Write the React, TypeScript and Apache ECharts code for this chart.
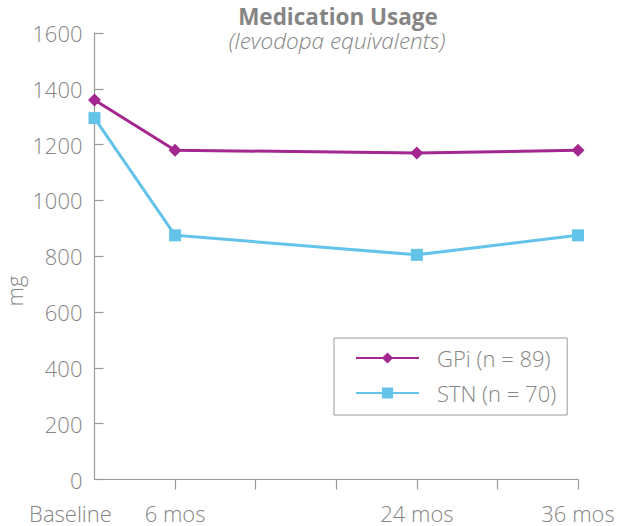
import React, { useEffect, useRef } from "react";
import * as echarts from "echarts";

const months = [0, 6, 24, 36];
const gpiValues = [1360, 1180, 1170, 1180];
const stnValues = [1295, 875, 805, 875];
const xLabelValues = [6, 24, 36];
const baselineLabel = "Baseline";
const xTickValues = [6, 12, 18, 24, 30, 36];
const seriesNames = ["GPi (n = 89)", "STN (n = 70)"];

const GRAY = "#858585";
const AXIS = "#9a9a9a";
const FONT = "Open Sans";

export default function App() {
  const ref = useRef<HTMLDivElement>(null);
  useEffect(() => {
    document.body.style.margin = "0";
    const chart = echarts.init(ref.current!, null, { renderer: "svg" });
    chart.setOption({
      animation: false,
      backgroundColor: "#ffffff",
      textStyle: { fontFamily: FONT },
      title: [
        {
          text: "Medication Usage",
          left: 338,
          textAlign: "center",
          top: 6,
          padding: 0,
          textStyle: { fontFamily: FONT, fontSize: 22.5, fontWeight: "bold", color: GRAY, lineHeight: 20 },
        },
        {
          text: "(levodopa equivalents)",
          left: 337,
          textAlign: "center",
          top: 30.5,
          padding: 0,
          textStyle: { fontFamily: FONT, fontSize: 22.5, fontStyle: "italic", fontWeight: 300, color: GRAY, lineHeight: 20 },
        },
      ],
      legend: {
        orient: "vertical",
        left: 334,
        top: 338,
        padding: [9, 11, 11, 21],
        itemWidth: 63,
        itemHeight: 14,
        itemGap: 13,
        borderColor: AXIS,
        borderWidth: 1,
        backgroundColor: "#fff",
        textStyle: { fontFamily: FONT, fontSize: 22, fontWeight: 300, color: GRAY, lineHeight: 20, padding: [0, 0, 0, 13] },
        data: seriesNames,
      },
      grid: { left: 94.5, right: 41, top: 33, bottom: 46.5, containLabel: false },
      xAxis: {
        type: "value",
        min: 0,
        max: 36,
        interval: 6,
        splitLine: { show: false },
        axisLine: { show: true, lineStyle: { color: AXIS, width: 1.2 } },
        axisTick: { show: true, length: 10, inside: false, customValues: xTickValues, lineStyle: { color: AXIS, width: 1.2 } },
        axisLabel: {
          customValues: xLabelValues,
          margin: 24,
          fontFamily: FONT,
          fontSize: 22,
          fontWeight: 300,
          lineHeight: 18,
          color: GRAY,
          formatter: (v: number) => v + " mos",
        },
      },
      yAxis: {
        type: "value",
        min: 0,
        max: 1600,
        interval: 200,
        offset: 2,
        splitLine: { show: false },
        axisLine: { show: true, lineStyle: { color: AXIS, width: 1.2 } },
        axisTick: { show: true, inside: true, length: 9, lineStyle: { color: AXIS, width: 1.2 } },
        axisLabel: { margin: 10, fontFamily: FONT, fontSize: 22, fontWeight: 300, color: GRAY, formatter: (v: number) => String(v) },
      },
      series: [
        {
          name: seriesNames[1],
          type: "line",
          data: months.map((m, i) => [m, stnValues[i]]),
          symbol: "rect",
          symbolSize: 12,
          itemStyle: { color: "#63C3E8" },
          lineStyle: { color: "#63C3E8", width: 3 },
        },
        {
          name: seriesNames[0],
          type: "line",
          data: months.map((m, i) => [m, gpiValues[i]]),
          symbol: "diamond",
          symbolSize: 13,
          itemStyle: { color: "#A3278F" },
          lineStyle: { color: "#A3278F", width: 3 },
        },
      ],
    });
    const p = chart.convertToPixel({ gridIndex: 0 }, [months[0], 0]) as number[];
    chart.setOption({
      graphic: [
        {
          type: "text",
          x: 13.5,
          y: 291,
          rotation: Math.PI / 2,
          style: {
            text: "mg",
            fontFamily: FONT,
            fontSize: 22,
            fontWeight: 300,
            lineHeight: 22,
            fill: GRAY,
            textAlign: "center",
            textVerticalAlign: "middle",
          },
        },
        {
          type: "text",
          x: p[0] - 24,
          y: p[1] + 24,
          style: {
            text: baselineLabel,
            fontFamily: FONT,
            fontSize: 22,
            fontWeight: 300,
            lineHeight: 18,
            fill: GRAY,
            textAlign: "center",
            textVerticalAlign: "top",
          },
        },
      ],
    });
    return () => chart.dispose();
  }, []);
  return <div ref={ref} style={{ position: "absolute", left: 0, top: 0, width: 619, height: 526 }} />;
}
